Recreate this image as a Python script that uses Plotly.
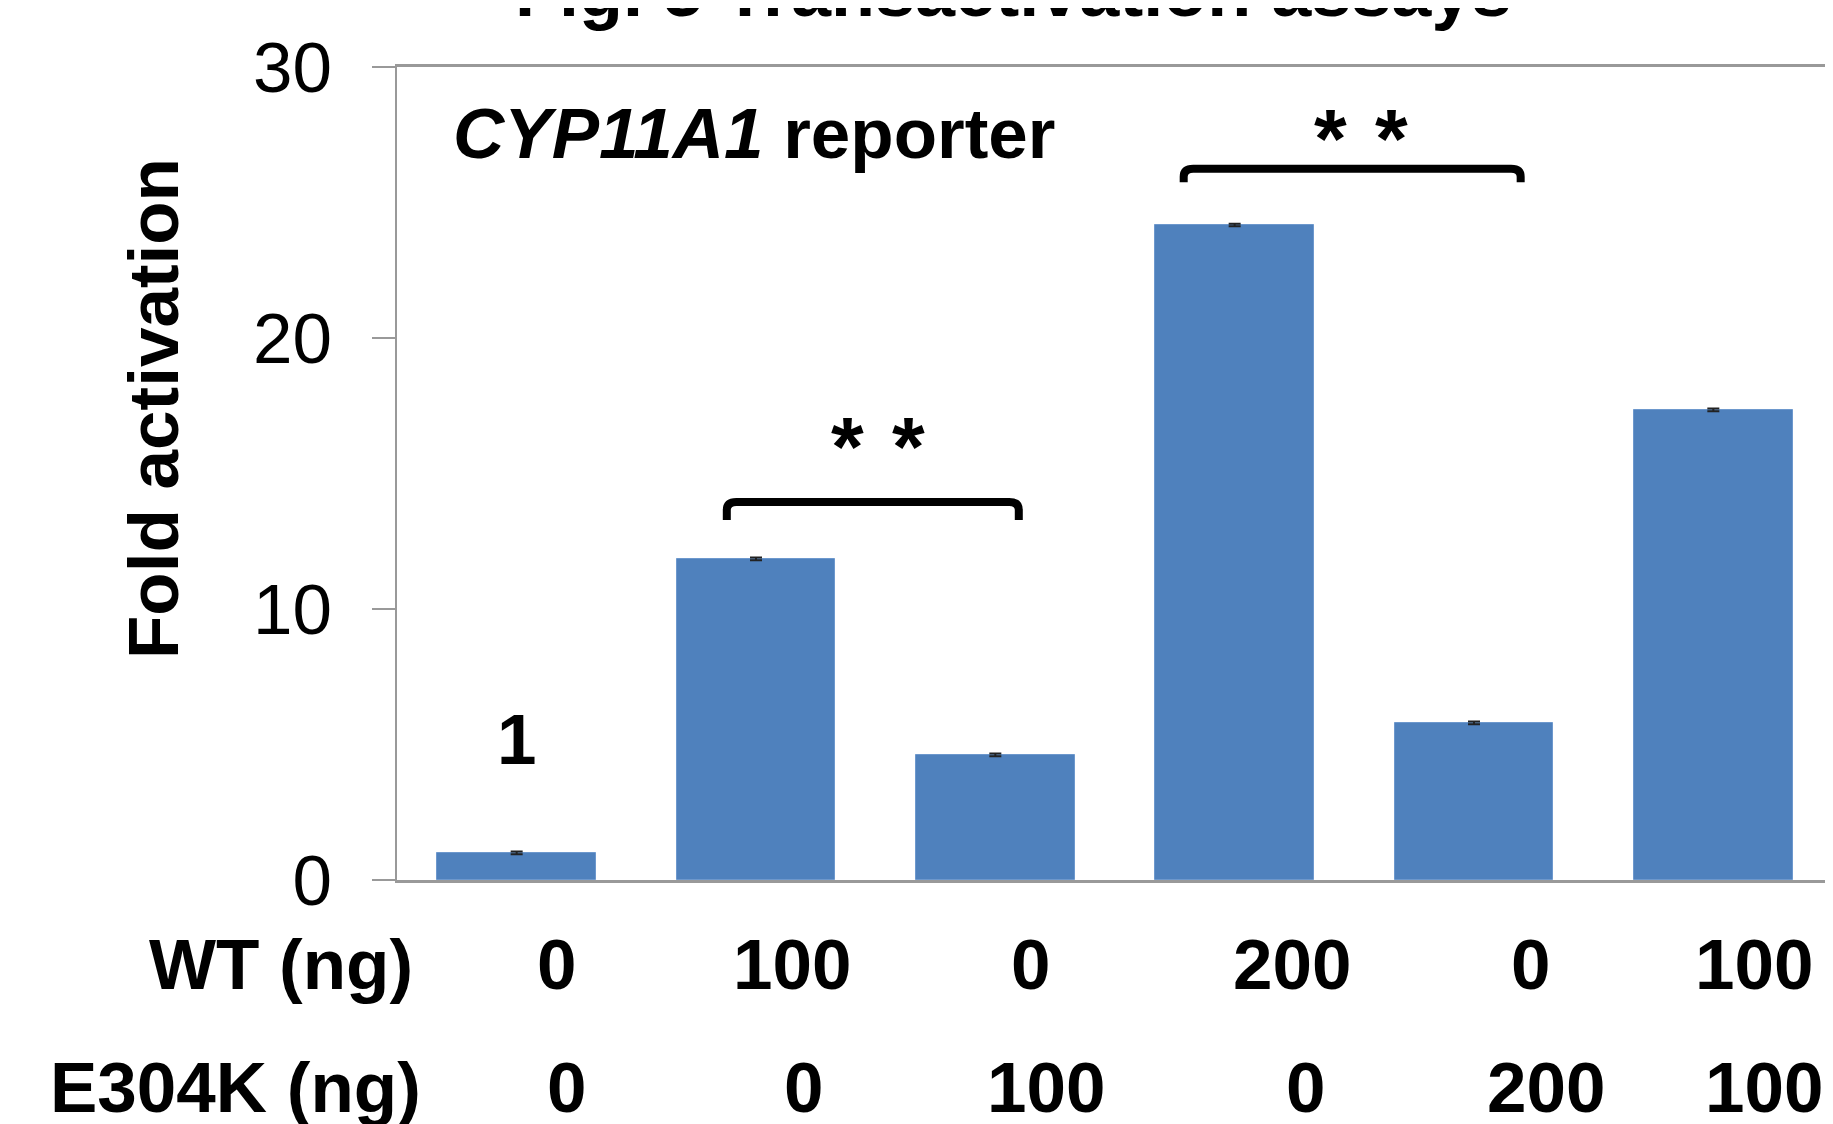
import plotly.graph_objects as go

# ---- data ----
categories = ["c1", "c2", "c3", "c4", "c5", "c6"]
fold_activation = [1.0, 11.85, 4.62, 24.17, 5.8, 17.35]
errors = [0.05, 0.05, 0.05, 0.05, 0.05, 0.05]
wt_ng = ["0", "100", "0", "200", "0", "100"]
e304k_ng = ["0", "0", "100", "0", "200", "100"]
y_ticks = [0, 10, 20, 30]

# ---- layout helpers (positions/styles) ----
wt_offsets = [0.17, 0.15, 0.15, 0.24, 0.24, 0.17]
e_offsets = [0.21, 0.20, 0.21, 0.30, 0.30, 0.21]
FONT = "Liberation Sans, Arial, sans-serif"
FS = 71

# page body has an 8px margin; compensate
W, H = 1825, 1116
L, T, PW, PH = 389, 59, 1436, 813
B = H - T - PH
R = W - L - PW

x_idx = list(range(len(categories)))

fig = go.Figure()
fig.add_trace(go.Bar(
    x=x_idx, y=fold_activation, width=0.664,
    marker=dict(color="#4F81BD", line=dict(color="#6d98cd", width=1)),
    error_y=dict(type="data", array=errors, visible=True, width=6,
                 thickness=2, color="#222222"),
    showlegend=False,
))


def bracket(x0, x1, yt, yb, rx=0.04, ry=0.3):
    return (f"M {x0},{yb} L {x0},{yt - ry} Q {x0},{yt} {x0 + rx},{yt} "
            f"L {x1 - rx},{yt} Q {x1},{yt} {x1},{yt - ry} L {x1},{yb}")


shapes = [
    dict(type="path", xref="x", yref="y", path=bracket(0.878, 2.098, 13.95, 13.28),
         line=dict(color="black", width=8)),
    dict(type="path", xref="x", yref="y", path=bracket(2.787, 4.195, 26.25, 25.75),
         line=dict(color="black", width=8)),
]


def px_x(p):
    return (p - 397) / PW


def px_y(p):
    return (880 - p) / PH


annotations = []
# title (partly cut at top)
annotations.append(dict(text="<b>Fig. 5 Transactivation assays</b>", xref="paper", yref="paper",
                        x=px_x(1013), y=1.042, xanchor="center", yanchor="bottom",
                        showarrow=False, font=dict(size=72, family=FONT, color="black")))
# reporter label
annotations.append(dict(text="<b><i>CYP11A1</i> reporter</b>", xref="x", yref="y",
                        x=-0.275, y=27.55, xanchor="left", yanchor="middle",
                        showarrow=False, font=dict(size=FS, family=FONT, color="black")))
# y title
annotations.append(dict(text="<b>Fold activation</b>", xref="paper", yref="paper",
                        x=px_x(154), y=px_y(409), xanchor="center",
                        yanchor="middle", textangle=-90, showarrow=False,
                        font=dict(size=FS, family=FONT, color="black")))
# "1" label
annotations.append(dict(text="<b>1</b>", xref="x", yref="y", x=0, y=5.2,
                        showarrow=False, font=dict(size=FS, family=FONT, color="black")))
# asterisks
for ax, ay in [(1.511, 15.97), (3.527, 27.33)]:
    for dx in (-0.127, 0.127):
        annotations.append(dict(text="<b>*</b>", xref="x", yref="y", x=ax + dx, y=ay,
                                showarrow=False,
                                font=dict(size=84, family=FONT, color="black")))
# row labels
wt_y = px_y(965)
e_y = px_y(1087)
annotations.append(dict(text="<b>WT (ng)</b>", xref="paper", yref="paper",
                        x=px_x(415), y=wt_y, xanchor="right",
                        yanchor="middle", showarrow=False,
                        font=dict(size=FS, family=FONT, color="black")))
annotations.append(dict(text="<b>E304K (ng)</b>", xref="paper", yref="paper",
                        x=px_x(423), y=e_y, xanchor="right",
                        yanchor="middle", showarrow=False,
                        font=dict(size=FS, family=FONT, color="black")))
for i, (w, e) in enumerate(zip(wt_ng, e304k_ng)):
    annotations.append(dict(text=f"<b>{w}</b>", xref="x", yref="paper",
                            x=i + wt_offsets[i], y=wt_y, xanchor="center",
                            yanchor="middle", showarrow=False,
                            font=dict(size=FS, family=FONT, color="black")))
    annotations.append(dict(text=f"<b>{e}</b>", xref="x", yref="paper",
                            x=i + e_offsets[i], y=e_y, xanchor="center",
                            yanchor="middle", showarrow=False,
                            font=dict(size=FS, family=FONT, color="black")))

fig.update_layout(
    width=W, height=H,
    margin=dict(l=L, r=R, t=T, b=B, autoexpand=False),
    paper_bgcolor="white", plot_bgcolor="white",
    bargap=0,
    xaxis=dict(range=[-0.5, 5.5], showticklabels=False, ticks="", showgrid=False,
               zeroline=False, showline=True, linecolor="#999999", linewidth=2.5,
               mirror=True),
    yaxis=dict(range=[0, 30], tickvals=y_ticks, ticks="outside", ticklen=23,
               tickwidth=2, tickcolor="#999999", showgrid=False, zeroline=False,
               showline=True, linecolor="#999999", linewidth=1.5, mirror=True,
               ticklabelstandoff=26,
               tickfont=dict(size=FS, family=FONT, color="black")),
    shapes=shapes,
    annotations=annotations,
)

fig.write_html("out.html")
